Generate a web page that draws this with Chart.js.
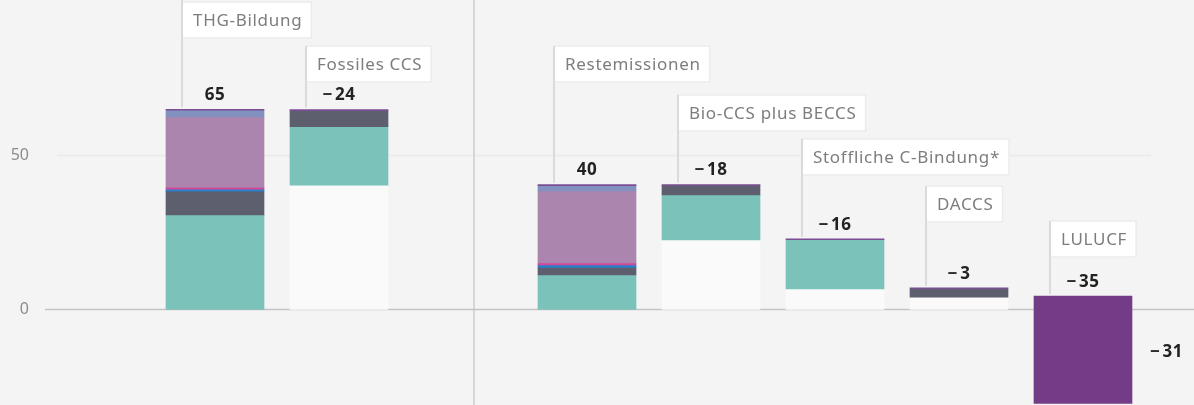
<!DOCTYPE html>
<html>
<head>
<meta charset="utf-8">
<script src="https://cdn.jsdelivr.net/npm/chart.js@4/dist/chart.umd.min.js"></script>
<style>
  html, body { margin: 0; padding: 0; background: #f4f4f4; }
  #wrap { position: relative; width: 1194px; height: 405px; }
</style>
</head>
<body>
<div id="wrap"><canvas id="c"></canvas></div>
<script>
// ---------- data ----------
const categories = ['THG-Bildung', 'Fossiles CCS', '', 'Restemissionen', 'Bio-CCS plus BECCS', 'Stoffliche C-Bindung*', 'DACCS', 'LULUCF'];
// level at which each (waterfall) bar starts
const startLevel = [0, 40.4, null, 0, 22.6, 6.65, 4.05, 4.4];
// stacked components, bottom to top
const teal       = [30.7, 19.0, null, 11.2, 14.6, 16.0, 0, 0];
const darkGrey   = [7.7, 5.2, null, 2.5, 3.1, 0, 2.7, 0];
const blue       = [0.65, 0, null, 0.8, 0, 0, 0, 0];
const pink       = [0.65, 0, null, 0.65, 0, 0, 0, 0];
const mauve      = [22.8, 0, null, 23.4, 0, 0, 0, 0];
const periwinkle = [2.2, 0, null, 1.7, 0, 0, 0, 0];
const purpleEdge = [0.3, 0.35, null, 0.3, 0.3, 0.3, 0.3, 0];
const lulucf     = [0, 0, null, 0, 0, 0, 0, -34.9];
// printed values
const valueLabels = [65, -24, null, 40, -18, -16, -3, -35];
const netValue = -31;
const yTicks = [0, 50];

// ---------- layout / style ----------
const labelBoxTop = [2, 46, null, 46, 95, 139, 186, 221];
const segColors = ['#7bc2bb', '#5d5f6e', '#2b7fc8', '#d2489a', '#ab85ae', '#8391c0', '#7b4d94', '#743c87'];
const baseColor = '#f9faf9';

const segs = [teal, darkGrey, blue, pink, mauve, periwinkle, purpleEdge, lulucf];
const ranges = segs.map(() => []);
const baseRanges = [];
const tops = [];
const bottoms = [];
categories.forEach((c, i) => {
  let cur = startLevel[i];
  if (cur == null) { ranges.forEach(r => r.push(null)); baseRanges.push(null); tops.push(null); bottoms.push(null); return; }
  baseRanges.push(cur > 0 ? [0, cur] : null);
  let hi = cur, lo = 0;
  segs.forEach((s, k) => {
    const v = s[i];
    if (!v) { ranges[k].push(null); return; }
    ranges[k].push([cur, cur + v]);
    cur += v;
    hi = Math.max(hi, cur); lo = Math.min(lo, cur);
  });
  tops.push(hi); bottoms.push(lo);
});

const fmt = n => n < 0 ? '\u2212\u200A' + Math.abs(n) : String(n);

const datasets = [];
// LULUCF first so it is painted on top
for (let k = segs.length - 1; k >= 0; k--) {
  datasets.push({ data: ranges[k], backgroundColor: segColors[k], borderWidth: 0 });
}
datasets.push({ data: baseRanges, backgroundColor: baseColor, borderWidth: 0 });

const deco = {
  id: 'deco',
  beforeDatasetsDraw(chart) {
    const { ctx } = chart;
    const y = chart.scales.y;
    ctx.save();
    // gridline at 50
    ctx.strokeStyle = '#ebebeb'; ctx.lineWidth = 2;
    ctx.beginPath(); ctx.moveTo(57, y.getPixelForValue(50)); ctx.lineTo(1151, y.getPixelForValue(50)); ctx.stroke();
    // divider
    ctx.strokeStyle = '#d6d6d6'; ctx.lineWidth = 2;
    ctx.beginPath(); ctx.moveTo(474, 0); ctx.lineTo(474, 405); ctx.stroke();
    // zero line
    ctx.strokeStyle = '#c4c4c4'; ctx.lineWidth = 1.5;
    ctx.beginPath(); ctx.moveTo(45, y.getPixelForValue(0)); ctx.lineTo(1194, y.getPixelForValue(0)); ctx.stroke();
    ctx.restore();
  },
  afterDatasetsDraw(chart) {
    const { ctx } = chart;
    const x = chart.scales.x, y = chart.scales.y;
    ctx.save();
    categories.forEach((c, i) => {
      if (!c) return;
      const cx = x.getPixelForValue(i);
      const topPx = y.getPixelForValue(tops[i]);
      // value label
      ctx.font = 'bold 17px "Noto Sans"';
      ctx.letterSpacing = '0.5px';
      ctx.fillStyle = '#222222';
      ctx.textAlign = 'center'; ctx.textBaseline = 'middle';
      ctx.fillText(fmt(valueLabels[i]), cx, topPx - 14);
      // category label box with leader line
      const lx = cx - 33;
      const bt = labelBoxTop[i];
      ctx.font = '17px "Noto Sans"';
      ctx.letterSpacing = '0.7px';
      const w = ctx.measureText(c).width + 20;
      ctx.fillStyle = '#ffffff';
      ctx.fillRect(lx, bt, w, 36);
      ctx.strokeStyle = '#ebebeb'; ctx.lineWidth = 1.5;
      ctx.strokeRect(lx, bt, w, 36);
      ctx.strokeStyle = '#dadada'; ctx.lineWidth = 2;
      ctx.beginPath(); ctx.moveTo(lx, i === 0 ? 0 : bt); ctx.lineTo(lx, topPx - 2); ctx.stroke();
      ctx.fillStyle = '#7d7d7d';
      ctx.textAlign = 'left'; ctx.textBaseline = 'middle';
      ctx.fillText(c, lx + 11, bt + 19);
    });
    // net result label right of the last bar
    const li = categories.length - 1;
    const meta = chart.getDatasetMeta(0);
    const bar = meta.data[li];
    ctx.font = 'bold 17px "Noto Sans"';
    ctx.letterSpacing = '0.5px';
    ctx.fillStyle = '#222222';
    ctx.textAlign = 'left'; ctx.textBaseline = 'middle';
    const ny = (y.getPixelForValue(0) + y.getPixelForValue(bottoms[li])) / 2 - 4;
    ctx.fillText(fmt(netValue), bar.x + bar.width / 2 + 18, ny);
    ctx.restore();
  }
};

new Chart(document.getElementById('c'), {
  type: 'bar',
  data: { labels: categories, datasets },
  options: {
    responsive: true,
    maintainAspectRatio: false,
    animation: false,
    layout: { padding: { left: 0, right: 49, top: 0, bottom: 0 } },
    plugins: { legend: { display: false }, tooltip: { enabled: false } },
    datasets: { bar: { barThickness: 98, grouped: false } },
    scales: {
      x: { type: 'category', stacked: true, display: false, offset: true },
      y: {
        min: -31, max: 100.5,
        grid: { display: false, drawTicks: false },
        border: { display: false },
        afterBuildTicks(s) { s.ticks = yTicks.map(v => ({ value: v })); },
        afterFit(s) { s.width = 153; s.paddingTop = 0; s.paddingBottom = 0; },
        ticks: { padding: 124, color: '#8c8c8c', font: { family: 'Noto Sans', size: 16 } }
      }
    }
  },
  plugins: [deco]
});
</script>
</body>
</html>
